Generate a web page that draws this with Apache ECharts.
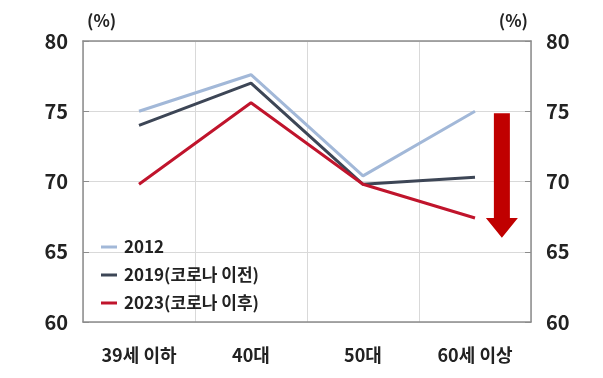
<!DOCTYPE html>
<html>
<head>
<meta charset="utf-8">
<script src="https://cdn.jsdelivr.net/npm/echarts@6/dist/echarts.min.js"></script>
<style>
  html, body { margin: 0; padding: 0; background: #fff; }
  #chart { width: 603px; height: 378px; }
</style>
</head>
<body>
<div id="chart"></div>
<script>
// Age groups along the x axis
const categories = ['39세 이하', '40대', '50대', '60세 이상'];

// Series values (%)
const seriesNames = ['2012', '2019(코로나 이전)', '2023(코로나 이후)'];
const values2012 = [75.0, 77.6, 70.4, 75.0];
const values2019 = [74.0, 77.0, 69.8, 70.3];
const values2023 = [69.8, 75.6, 69.8, 67.4];

// Y axis range and step
const yMin = 60, yMax = 80, yStep = 5;

// Downward arrow annotation: [category index, top value, head start value, tip value]
const arrowData = [[3, 74.85, 67.4, 66.0]];

const FONT = '"Noto Sans CJK KR", "Noto Sans", sans-serif';
const colors = ['#a2b8d8', '#3d4656', '#c0142c'];
const arrowColor = '#c00000';
const textColor = '#222';

const chart = echarts.init(document.getElementById('chart'), null, { renderer: 'canvas' });

const yAxisBase = {
  type: 'value',
  min: yMin,
  max: yMax,
  interval: yStep,
  name: '(%)',
  nameLocation: 'end',
  nameGap: 12,
  axisLine: { show: true, lineStyle: { color: '#8c8c8c', width: 1.5 } },
  axisTick: { show: true, inside: true, length: 6, lineStyle: { color: '#8c8c8c' } },
  splitLine: { show: true, lineStyle: { color: '#d9d9d9', width: 1 } },
  axisLabel: { color: textColor, fontSize: 20, fontWeight: 'bold', fontFamily: FONT, margin: 15 }
};

const option = {
  animation: false,
  grid: { left: 83, right: 72, top: 41, bottom: 56, containLabel: false },
  legend: {
    data: seriesNames,
    orient: 'vertical',
    left: 96,
    top: 233,
    itemWidth: 16,
    itemHeight: 3,
    itemGap: 10,
    icon: 'rect',
    textStyle: { color: textColor, fontSize: 17, fontWeight: 'bold', fontFamily: FONT, lineHeight: 18, padding: [0, 0, 0, 2] }
  },
  xAxis: [
    {
      type: 'category',
      data: categories,
      boundaryGap: true,
      axisLine: { show: true, lineStyle: { color: '#8c8c8c', width: 1.5 } },
      axisTick: { show: false },
      splitLine: { show: true, lineStyle: { color: '#d9d9d9', width: 1 } },
      axisLabel: { color: textColor, fontSize: 18, fontWeight: 'bold', fontFamily: FONT, margin: 24 }
    },
    {
      type: 'category',
      data: categories,
      position: 'top',
      boundaryGap: true,
      axisLine: { show: true, lineStyle: { color: '#8c8c8c', width: 1.5 } },
      axisTick: { show: false },
      axisLabel: { show: false },
      splitLine: { show: false }
    }
  ],
  yAxis: [
    Object.assign({}, yAxisBase, {
      position: 'left',
      nameTextStyle: { color: textColor, fontSize: 17, fontWeight: 'bold', fontFamily: FONT, align: 'left', padding: [0, 0, 0, 4] }
    }),
    Object.assign({}, yAxisBase, {
      position: 'right',
      splitLine: { show: false },
      nameTextStyle: { color: textColor, fontSize: 17, fontWeight: 'bold', fontFamily: FONT, align: 'right', padding: [0, 3, 0, 0] }
    })
  ],
  series: [
    {
      name: seriesNames[0], type: 'line', data: values2012,
      symbol: 'none', lineStyle: { color: colors[0], width: 3 }, itemStyle: { color: colors[0] }, z: 3
    },
    {
      name: seriesNames[1], type: 'line', data: values2019,
      symbol: 'none', lineStyle: { color: colors[1], width: 3 }, itemStyle: { color: colors[1] }, z: 4
    },
    {
      name: seriesNames[2], type: 'line', data: values2023,
      symbol: 'none', lineStyle: { color: colors[2], width: 3 }, itemStyle: { color: colors[2] }, z: 5
    },
    {
      name: 'arrow',
      type: 'custom',
      data: arrowData,
      silent: true,
      z: 6,
      renderItem: function (params, api) {
        const top = api.coord([api.value(0), api.value(1)]);
        const headStart = api.coord([api.value(0), api.value(2)]);
        const tip = api.coord([api.value(0), api.value(3)]);
        const band = api.size([1, 0])[0];
        const cx = top[0] + band * 0.24;
        const shaftHalf = 8, headHalf = 16;
        return {
          type: 'polygon',
          shape: {
            points: [
              [cx - shaftHalf, top[1]],
              [cx + shaftHalf, top[1]],
              [cx + shaftHalf, headStart[1]],
              [cx + headHalf, headStart[1]],
              [cx, tip[1]],
              [cx - headHalf, headStart[1]],
              [cx - shaftHalf, headStart[1]]
            ]
          },
          style: { fill: arrowColor }
        };
      }
    }
  ]
};

chart.setOption(option);
</script>
</body>
</html>
